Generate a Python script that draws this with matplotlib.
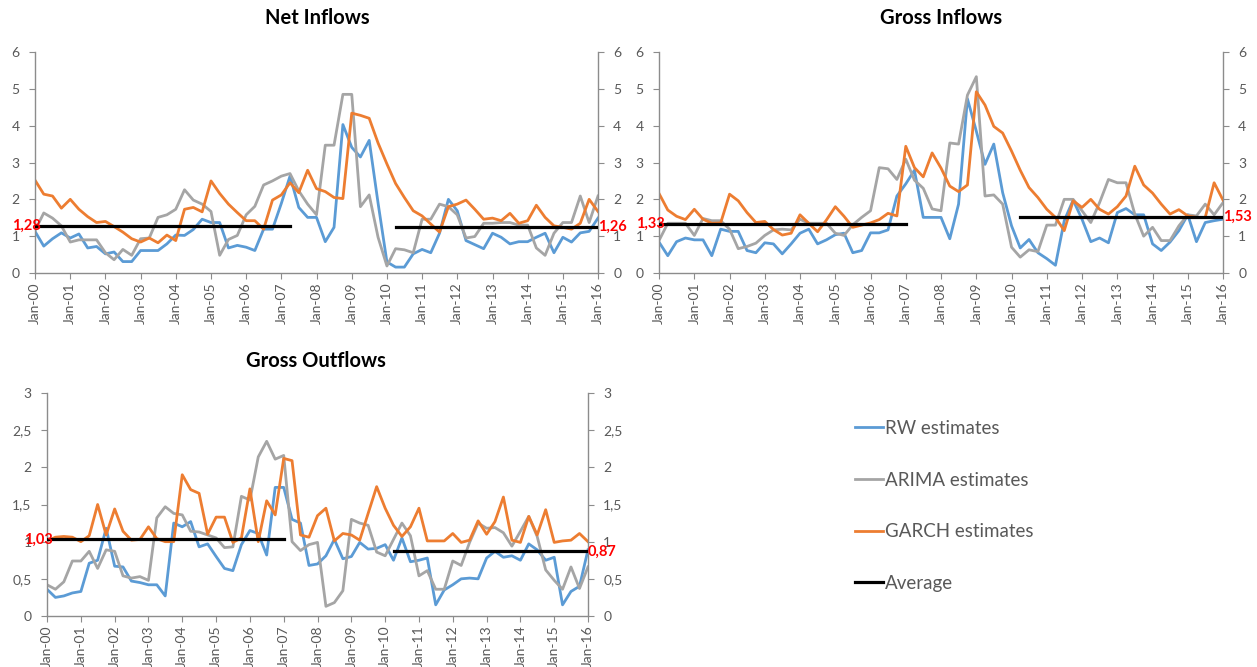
import matplotlib
matplotlib.use("Agg")
import matplotlib.pyplot as plt
import matplotlib.dates as mdates
from matplotlib.ticker import FixedLocator, FuncFormatter
import pandas as pd

plt.rcParams['font.family'] = ['Lato', 'DejaVu Sans']

# quarterly observations, Jan-00 .. Jan-16
dates = pd.date_range("2000-01-01", "2016-01-01", freq="QS")

# Net Inflows
net_rw = [1.13, 0.73, 0.93, 1.09, 0.95, 1.06, 0.68, 0.72, 0.52, 0.57, 0.31, 0.31, 0.61, 0.61, 0.61, 0.79,
          1.03, 1.02, 1.18, 1.46, 1.37, 1.37, 0.68, 0.75, 0.70, 0.61, 1.19, 1.19, 1.89, 2.63, 1.78, 1.51,
          1.51, 0.85, 1.24, 4.03, 3.41, 3.15, 3.60, 1.90, 0.30, 0.16, 0.16, 0.52, 0.64, 0.55, 1.08, 2.00,
          1.69, 0.88, 0.77, 0.66, 1.08, 0.97, 0.79, 0.85, 0.85, 0.97, 1.08, 0.55, 0.97, 0.84, 1.09, 1.13, 1.49]
net_arima = [1.15, 1.63, 1.49, 1.28, 0.84, 0.90, 0.90, 0.90, 0.55, 0.36, 0.64, 0.48, 0.93, 0.95, 1.51, 1.58,
             1.73, 2.26, 1.98, 1.87, 1.67, 0.48, 0.91, 1.02, 1.58, 1.81, 2.39, 2.50, 2.63, 2.70, 2.23, 1.87,
             1.58, 3.47, 3.47, 4.85, 4.85, 1.80, 2.12, 0.97, 0.19, 0.66, 0.63, 0.55, 1.46, 1.46, 1.87, 1.80,
             1.58, 0.95, 0.99, 1.35, 1.35, 1.37, 1.37, 1.30, 1.30, 0.68, 0.48, 1.08, 1.37, 1.37, 2.09, 1.37, 2.09]
net_garch = [2.52, 2.14, 2.09, 1.76, 2.00, 1.73, 1.53, 1.37, 1.40, 1.26, 1.11, 0.93, 0.84, 0.95, 0.82, 1.03,
             0.88, 1.73, 1.78, 1.66, 2.50, 2.16, 1.87, 1.64, 1.42, 1.42, 1.19, 1.98, 2.12, 2.45, 2.18, 2.79,
             2.29, 2.21, 2.05, 2.02, 4.34, 4.28, 4.20, 3.53, 2.96, 2.43, 2.05, 1.69, 1.55, 1.33, 1.11, 1.80,
             1.87, 1.98, 1.73, 1.46, 1.49, 1.42, 1.62, 1.35, 1.42, 1.84, 1.51, 1.28, 1.24, 1.19, 1.35, 2.00, 1.67]
net_avg = [1.28, 1.26]

# Gross Inflows
gin_rw = [0.84, 0.47, 0.85, 0.95, 0.90, 0.90, 0.47, 1.19, 1.13, 1.13, 0.61, 0.55, 0.82, 0.79, 0.52, 0.79,
          1.08, 1.19, 0.79, 0.90, 1.04, 1.08, 0.55, 0.61, 1.09, 1.09, 1.17, 2.09, 2.42, 2.79, 1.51, 1.51,
          1.51, 0.93, 1.87, 4.73, 3.85, 2.95, 3.50, 2.18, 1.28, 0.68, 0.91, 0.55, 0.39, 0.21, 1.42, 1.98,
          1.46, 0.85, 0.95, 0.82, 1.64, 1.75, 1.58, 1.58, 0.79, 0.61, 0.84, 1.15, 1.58, 0.85, 1.37, 1.42, 1.46]
gin_arima = [0.88, 1.35, 1.35, 1.35, 1.02, 1.48, 1.42, 1.42, 1.19, 0.66, 0.72, 0.81, 1.02, 1.17, 1.19, 1.17,
             1.46, 1.35, 1.35, 1.35, 1.08, 1.02, 1.31, 1.51, 1.69, 2.86, 2.83, 2.54, 3.09, 2.52, 2.30, 1.74,
             1.69, 3.53, 3.50, 4.83, 5.33, 2.09, 2.12, 1.87, 0.70, 0.43, 0.63, 0.58, 1.30, 1.30, 2.00, 2.00,
             1.69, 1.37, 1.91, 2.54, 2.45, 2.45, 1.60, 1.00, 1.24, 0.88, 0.88, 1.28, 1.58, 1.55, 1.87, 1.58, 1.91]
gin_garch = [2.16, 1.71, 1.54, 1.45, 1.73, 1.46, 1.35, 1.36, 2.14, 1.96, 1.64, 1.37, 1.40, 1.18, 1.03, 1.08,
             1.58, 1.35, 1.12, 1.44, 1.80, 1.54, 1.24, 1.30, 1.36, 1.45, 1.62, 1.55, 3.44, 2.86, 2.61, 3.26,
             2.85, 2.36, 2.21, 2.39, 4.92, 4.56, 3.98, 3.80, 3.31, 2.79, 2.32, 2.05, 1.73, 1.51, 1.15, 1.96,
             1.78, 2.00, 1.73, 1.60, 1.80, 2.09, 2.90, 2.39, 2.17, 1.87, 1.60, 1.72, 1.55, 1.51, 1.51, 2.45, 1.98]
gin_avg = [1.33, 1.53]

# Gross Outflows
gout_rw = [0.36, 0.25, 0.27, 0.31, 0.33, 0.71, 0.75, 1.18, 0.67, 0.66, 0.47, 0.45, 0.42, 0.42, 0.27, 1.25,
           1.20, 1.27, 0.93, 0.97, 0.80, 0.64, 0.61, 0.96, 1.15, 1.11, 0.82, 1.73, 1.73, 1.30, 1.25, 0.68,
           0.70, 0.81, 1.03, 0.77, 0.80, 0.99, 0.90, 0.91, 0.96, 0.75, 1.05, 0.73, 0.75, 0.78, 0.15, 0.35,
           0.42, 0.50, 0.51, 0.50, 0.78, 0.87, 0.79, 0.81, 0.75, 0.97, 0.89, 0.75, 0.79, 0.15, 0.33, 0.40, 0.89]
gout_arima = [0.42, 0.36, 0.46, 0.74, 0.74, 0.87, 0.64, 0.89, 0.87, 0.54, 0.51, 0.53, 0.48, 1.32, 1.47, 1.38,
              1.36, 1.14, 1.13, 1.09, 1.05, 0.92, 0.93, 1.61, 1.56, 2.14, 2.35, 2.11, 2.16, 1.00, 0.88, 0.96,
              0.99, 0.13, 0.18, 0.34, 1.30, 1.25, 1.22, 0.86, 0.81, 1.03, 1.25, 1.08, 0.54, 0.61, 0.36, 0.36,
              0.74, 0.68, 0.99, 1.25, 1.18, 1.19, 1.12, 0.94, 1.14, 1.34, 1.07, 0.62, 0.48, 0.36, 0.66, 0.37, 0.66]
gout_garch = [1.01, 1.06, 1.07, 1.06, 1.00, 1.08, 1.50, 1.09, 1.44, 1.14, 1.02, 1.03, 1.20, 1.04, 1.00, 1.00,
              1.90, 1.70, 1.65, 1.10, 1.33, 1.33, 0.99, 1.05, 1.71, 1.00, 1.55, 1.36, 2.12, 2.09, 1.09, 1.06,
              1.35, 1.45, 1.01, 1.11, 1.09, 1.02, 1.38, 1.74, 1.45, 1.22, 1.07, 1.20, 1.45, 1.01, 1.01, 1.01,
              1.11, 0.99, 1.02, 1.28, 1.10, 1.27, 1.60, 1.02, 0.99, 1.34, 1.09, 1.43, 0.99, 1.01, 1.02, 1.11, 1.00]
gout_avg = [1.03, 0.87]

# sub-periods the averages cover (index of first and last quarter)
periods_net = [(0, 29), (41, 64)]
periods_gross = [(0, 28), (41, 64)]

blue, grey, orange = "#5B9BD5", "#A5A5A5", "#ED7D31"
axis_col, label_col = "#8C8C8C", "#595959"

W, H = 1257, 667
fig = plt.figure(figsize=(W / 100, H / 100), dpi=100)


def px_axes(left, top, right, bottom):
    return fig.add_axes([left / W, 1 - bottom / H, (right - left) / W, (bottom - top) / H])


def comma(v, pos):
    s = ("%g" % v)
    return s.replace(".", ",")


def draw_panel(ax, rw, arima, garch, avgs, periods, ymax, ystep, title, title_xy):
    l1, = ax.plot(dates, rw, color=blue, lw=2.0)
    l2, = ax.plot(dates, arima, color=grey, lw=2.0)
    l3, = ax.plot(dates, garch, color=orange, lw=2.0)
    l4 = None
    for (s, e), a in zip(periods, avgs):
        l4, = ax.plot(dates[s:e + 1], [a] * (e - s + 1), color="black", lw=2.3, zorder=5)
    ax.set_xlim(dates[0], dates[-1])
    ax.set_ylim(0, ymax)
    ticks = [i * ystep for i in range(int(round(ymax / ystep)) + 1)]
    ax.yaxis.set_major_locator(FixedLocator(ticks))
    ax.yaxis.set_major_formatter(FuncFormatter(comma))
    ax.xaxis.set_major_locator(mdates.YearLocator())
    ax.xaxis.set_major_formatter(mdates.DateFormatter("%b-%y"))
    ax.tick_params(axis="x", rotation=90, labelsize=10, colors=label_col, length=4, pad=3, color=axis_col)
    ax.tick_params(axis="y", labelsize=10, colors=label_col, length=4, pad=7, color=axis_col,
                   right=True, labelright=True)
    for side in ["left", "right", "bottom"]:
        ax.spines[side].set_color(axis_col)
        ax.spines[side].set_linewidth(1.0)
    ax.spines["top"].set_visible(False)
    ax.set_facecolor("none")
    # average value labels, drawn over the axis like in the source chart
    ax.annotate(("%.2f" % avgs[0]).replace(".", ","), xy=(0, avgs[0]), xycoords=("axes fraction", "data"),
                xytext=(6, 0), textcoords="offset pixels", ha="right", va="center",
                color="red", fontsize=10.5, fontweight="bold", zorder=6, annotation_clip=False)
    ax.annotate(("%.2f" % avgs[1]).replace(".", ","), xy=(1, avgs[1]), xycoords=("axes fraction", "data"),
                xytext=(0, 0), textcoords="offset pixels", ha="left", va="center",
                color="red", fontsize=10.5, fontweight="bold", zorder=6, annotation_clip=False)
    fig.text(title_xy[0] / W, 1 - title_xy[1] / H, title, ha="center", va="center",
             fontsize=14.5, fontweight="bold")
    return [l1, l2, l3, l4]


ax1 = px_axes(35, 52, 598, 273)
handles = draw_panel(ax1, net_rw, net_arima, net_garch, net_avg, periods_net, 6, 1, "Net Inflows", (317, 18))

ax2 = px_axes(659, 52, 1223, 273)
draw_panel(ax2, gin_rw, gin_arima, gin_garch, gin_avg, periods_gross, 6, 1, "Gross Inflows", (941, 18))

ax3 = px_axes(47, 393, 588, 616)
draw_panel(ax3, gout_rw, gout_arima, gout_garch, gout_avg, periods_gross, 3, 0.5, "Gross Outflows", (316, 361))

fig.legend(handles, ["RW estimates", "ARIMA estimates", "GARCH estimates", "Average"],
           loc="upper left", bbox_to_anchor=(838 / W, 1 - 403 / H), frameon=False,
           fontsize=13.5, handlelength=1.5, handletextpad=0.1, labelspacing=1.85,
           labelcolor=label_col)

fig.savefig("out.png", dpi=100)
